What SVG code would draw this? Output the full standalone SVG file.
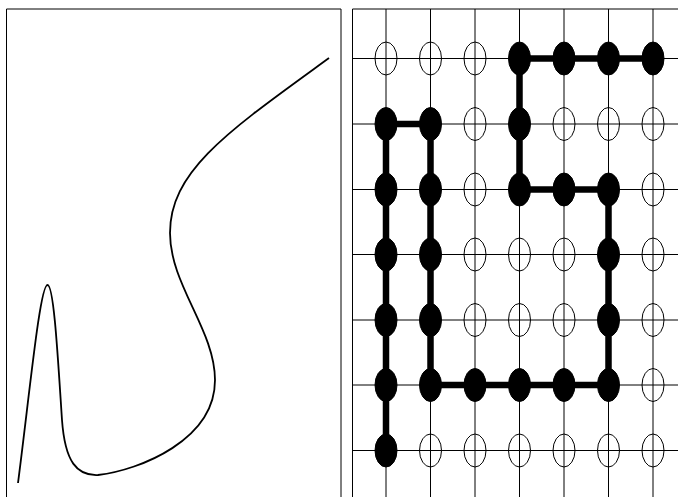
<svg xmlns="http://www.w3.org/2000/svg" width="678" height="497" viewBox="0 0 678 497">
<style>
.frame{fill:none;stroke:#000;stroke-width:1}
.grid line{stroke:#000;stroke-width:1}
.curve{fill:none;stroke:#000;stroke-width:1.8}
.open{fill:#fff;fill-opacity:0;stroke:#000;stroke-width:1}
.on{fill:#000;stroke:#000;stroke-width:1}
.conn line{stroke:#000;stroke-width:6.5;stroke-linecap:butt}
</style>
<rect width="678" height="497" fill="#fff"/>
<g id="left-panel">
<polyline class="frame" points="6.5,497 6.5,9 341,9 341,497"/>
<path class="curve" d="M18,483 C30,390 40,285 47.5,285 C54,285 58,360 62,420 C65,462 77,476 98,475 C140,470 215,440 215,380 C215,330 170,285 170,233 C170,170 230,130 329,58"/>
</g>
<g id="right-panel">
<polyline class="frame" points="352.5,497 352.5,9 678,9"/>
<g class="grid">
<line x1="386" y1="9" x2="386" y2="497"/>
<line x1="430.5" y1="9" x2="430.5" y2="497"/>
<line x1="475" y1="9" x2="475" y2="497"/>
<line x1="519.5" y1="9" x2="519.5" y2="497"/>
<line x1="564" y1="9" x2="564" y2="497"/>
<line x1="608.5" y1="9" x2="608.5" y2="497"/>
<line x1="653" y1="9" x2="653" y2="497"/>
<line x1="352.5" y1="58.5" x2="678" y2="58.5"/>
<line x1="352.5" y1="124" x2="678" y2="124"/>
<line x1="352.5" y1="189.5" x2="678" y2="189.5"/>
<line x1="352.5" y1="254.5" x2="678" y2="254.5"/>
<line x1="352.5" y1="320" x2="678" y2="320"/>
<line x1="352.5" y1="385" x2="678" y2="385"/>
<line x1="352.5" y1="450.5" x2="678" y2="450.5"/>
</g>
</g>
<g id="connectors" class="conn">
<line x1="519.5" y1="58.5" x2="653" y2="58.5"/>
<line x1="519.5" y1="58.5" x2="519.5" y2="189.5"/>
<line x1="519.5" y1="189.5" x2="608.5" y2="189.5"/>
<line x1="608.5" y1="189.5" x2="608.5" y2="385"/>
<line x1="430.5" y1="385" x2="608.5" y2="385"/>
<line x1="430.5" y1="124" x2="430.5" y2="385"/>
<line x1="386" y1="124" x2="430.5" y2="124"/>
<line x1="386" y1="124" x2="386" y2="450.5"/>
</g>
<g id="nodes">
<g id="n-0-0"><ellipse class="open" cx="386" cy="58.5" rx="11" ry="16.5"/></g>
<g id="n-0-1"><ellipse class="open" cx="430.5" cy="58.5" rx="11" ry="16.5"/></g>
<g id="n-0-2"><ellipse class="open" cx="475" cy="58.5" rx="11" ry="16.5"/></g>
<g id="n-0-3"><ellipse class="on" cx="519.5" cy="58.5" rx="11" ry="16.5"/></g>
<g id="n-0-4"><ellipse class="on" cx="564" cy="58.5" rx="11" ry="16.5"/></g>
<g id="n-0-5"><ellipse class="on" cx="608.5" cy="58.5" rx="11" ry="16.5"/></g>
<g id="n-0-6"><ellipse class="on" cx="653" cy="58.5" rx="11" ry="16.5"/></g>
<g id="n-1-0"><ellipse class="on" cx="386" cy="124" rx="11" ry="16.5"/></g>
<g id="n-1-1"><ellipse class="on" cx="430.5" cy="124" rx="11" ry="16.5"/></g>
<g id="n-1-2"><ellipse class="open" cx="475" cy="124" rx="11" ry="16.5"/></g>
<g id="n-1-3"><ellipse class="on" cx="519.5" cy="124" rx="11" ry="16.5"/></g>
<g id="n-1-4"><ellipse class="open" cx="564" cy="124" rx="11" ry="16.5"/></g>
<g id="n-1-5"><ellipse class="open" cx="608.5" cy="124" rx="11" ry="16.5"/></g>
<g id="n-1-6"><ellipse class="open" cx="653" cy="124" rx="11" ry="16.5"/></g>
<g id="n-2-0"><ellipse class="on" cx="386" cy="189.5" rx="11" ry="16.5"/></g>
<g id="n-2-1"><ellipse class="on" cx="430.5" cy="189.5" rx="11" ry="16.5"/></g>
<g id="n-2-2"><ellipse class="open" cx="475" cy="189.5" rx="11" ry="16.5"/></g>
<g id="n-2-3"><ellipse class="on" cx="519.5" cy="189.5" rx="11" ry="16.5"/></g>
<g id="n-2-4"><ellipse class="on" cx="564" cy="189.5" rx="11" ry="16.5"/></g>
<g id="n-2-5"><ellipse class="on" cx="608.5" cy="189.5" rx="11" ry="16.5"/></g>
<g id="n-2-6"><ellipse class="open" cx="653" cy="189.5" rx="11" ry="16.5"/></g>
<g id="n-3-0"><ellipse class="on" cx="386" cy="254.5" rx="11" ry="16.5"/></g>
<g id="n-3-1"><ellipse class="on" cx="430.5" cy="254.5" rx="11" ry="16.5"/></g>
<g id="n-3-2"><ellipse class="open" cx="475" cy="254.5" rx="11" ry="16.5"/></g>
<g id="n-3-3"><ellipse class="open" cx="519.5" cy="254.5" rx="11" ry="16.5"/></g>
<g id="n-3-4"><ellipse class="open" cx="564" cy="254.5" rx="11" ry="16.5"/></g>
<g id="n-3-5"><ellipse class="on" cx="608.5" cy="254.5" rx="11" ry="16.5"/></g>
<g id="n-3-6"><ellipse class="open" cx="653" cy="254.5" rx="11" ry="16.5"/></g>
<g id="n-4-0"><ellipse class="on" cx="386" cy="320" rx="11" ry="16.5"/></g>
<g id="n-4-1"><ellipse class="on" cx="430.5" cy="320" rx="11" ry="16.5"/></g>
<g id="n-4-2"><ellipse class="open" cx="475" cy="320" rx="11" ry="16.5"/></g>
<g id="n-4-3"><ellipse class="open" cx="519.5" cy="320" rx="11" ry="16.5"/></g>
<g id="n-4-4"><ellipse class="open" cx="564" cy="320" rx="11" ry="16.5"/></g>
<g id="n-4-5"><ellipse class="on" cx="608.5" cy="320" rx="11" ry="16.5"/></g>
<g id="n-4-6"><ellipse class="open" cx="653" cy="320" rx="11" ry="16.5"/></g>
<g id="n-5-0"><ellipse class="on" cx="386" cy="385" rx="11" ry="16.5"/></g>
<g id="n-5-1"><ellipse class="on" cx="430.5" cy="385" rx="11" ry="16.5"/></g>
<g id="n-5-2"><ellipse class="on" cx="475" cy="385" rx="11" ry="16.5"/></g>
<g id="n-5-3"><ellipse class="on" cx="519.5" cy="385" rx="11" ry="16.5"/></g>
<g id="n-5-4"><ellipse class="on" cx="564" cy="385" rx="11" ry="16.5"/></g>
<g id="n-5-5"><ellipse class="on" cx="608.5" cy="385" rx="11" ry="16.5"/></g>
<g id="n-5-6"><ellipse class="open" cx="653" cy="385" rx="11" ry="16.5"/></g>
<g id="n-6-0"><ellipse class="on" cx="386" cy="450.5" rx="11" ry="16.5"/></g>
<g id="n-6-1"><ellipse class="open" cx="430.5" cy="450.5" rx="11" ry="16.5"/></g>
<g id="n-6-2"><ellipse class="open" cx="475" cy="450.5" rx="11" ry="16.5"/></g>
<g id="n-6-3"><ellipse class="open" cx="519.5" cy="450.5" rx="11" ry="16.5"/></g>
<g id="n-6-4"><ellipse class="open" cx="564" cy="450.5" rx="11" ry="16.5"/></g>
<g id="n-6-5"><ellipse class="open" cx="608.5" cy="450.5" rx="11" ry="16.5"/></g>
<g id="n-6-6"><ellipse class="open" cx="653" cy="450.5" rx="11" ry="16.5"/></g>
</g>
</svg>
